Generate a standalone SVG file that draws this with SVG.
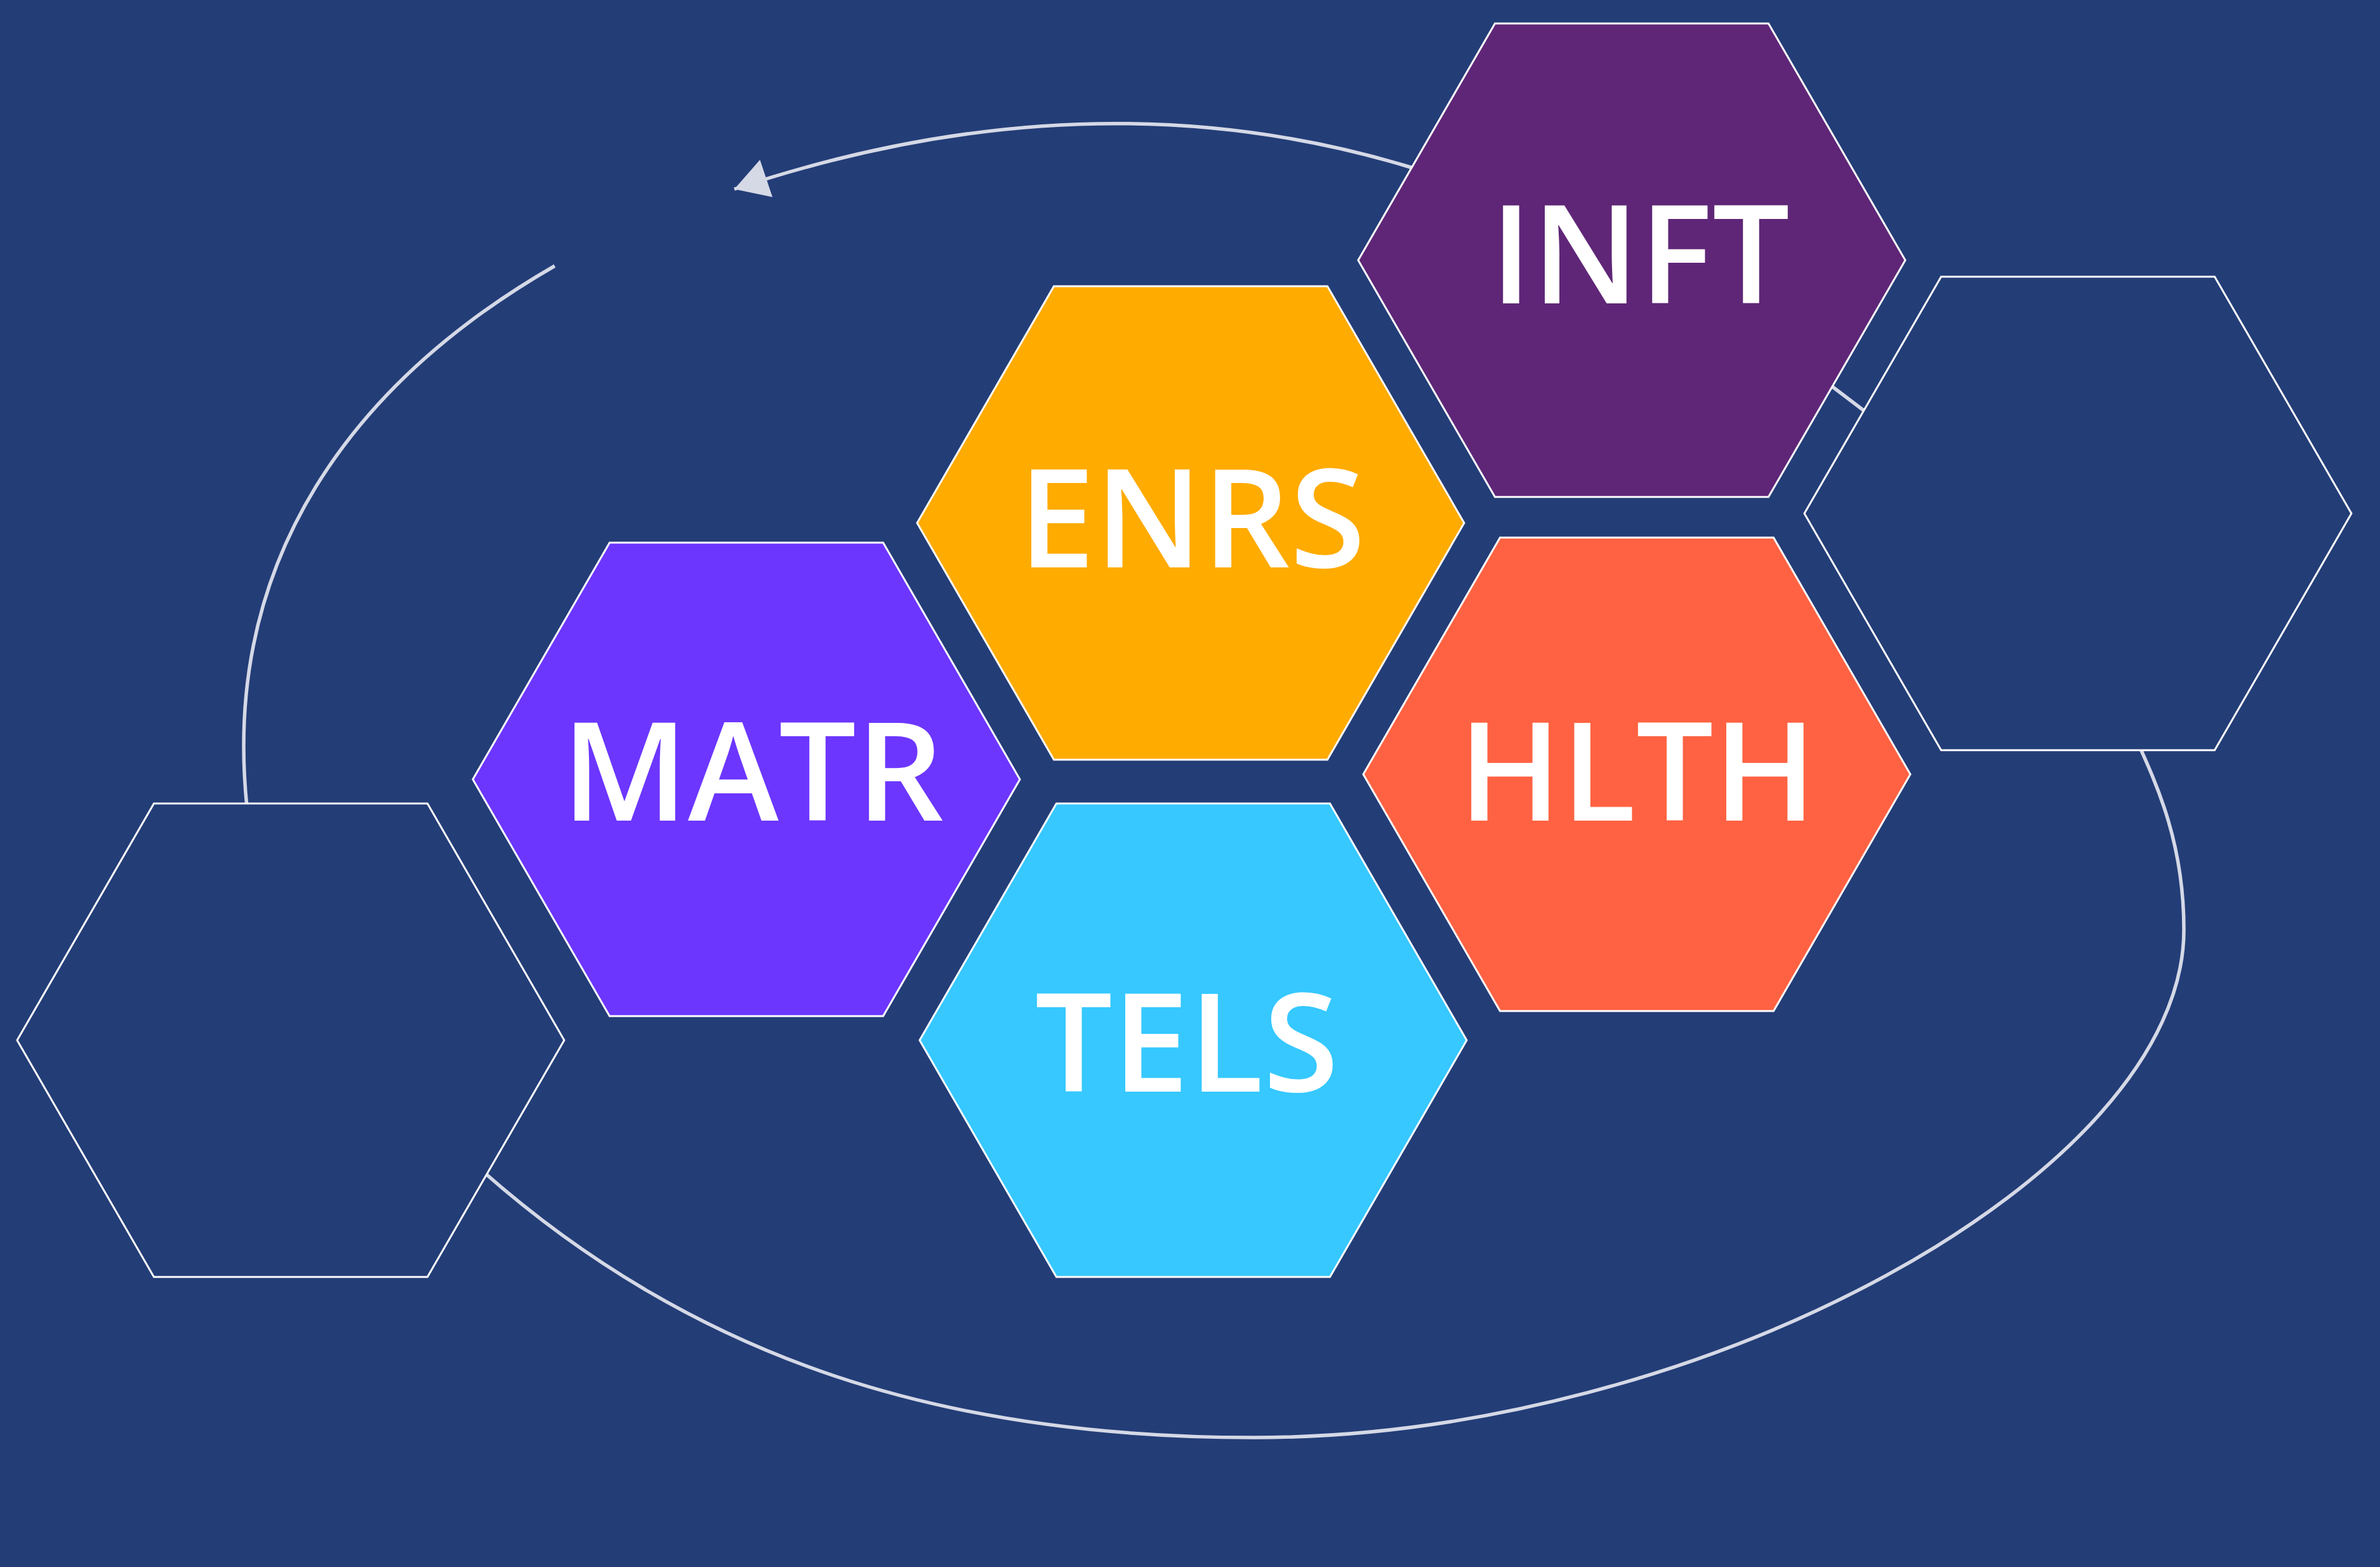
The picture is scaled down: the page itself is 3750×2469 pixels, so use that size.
<svg xmlns="http://www.w3.org/2000/svg" width="3750" height="2469" viewBox="0 0 3750 2469">
  <defs>
    <style>
      .hex { stroke: #FFFFFF; stroke-width: 3; stroke-linejoin: miter; }
      .empty { fill: #233D77; }
      .lbl { font-family: "Open Sans", "Noto Sans", "Liberation Sans", sans-serif; font-weight: 600; font-size: 216px; fill: #FFFFFF; text-anchor: middle; }
      .conn { fill: none; stroke: #D5D9E6; stroke-width: 5.5; }
    </style>
    <marker id="arrow" markerUnits="userSpaceOnUse" viewBox="-56 -34 60 68" markerWidth="60" markerHeight="68" refX="0" refY="0" orient="auto">
      <path d="M0,0 L-53,-31 L-53,31 Z" fill="#D5D9E6"/>
    </marker>
  </defs>
  <rect x="0" y="0" width="3750" height="2469" fill="#233D77"/>

  <g id="connectors">
    <path class="conn" d="M2224,264 Q1720,110 1157,298" marker-end="url(#arrow)"/>
    <path class="conn" d="M874,419 C560,600 345,880 390,1280"/>
    <path class="conn" d="M750,1836 C1100,2150 1500,2265 1976,2265 C2680,2265 3441,1850 3441,1465 C3441,1330 3400,1240 3366,1165"/>
    <path class="conn" d="M2950,657 L2875,600"/>
  </g>

  <g id="node-left-empty">
    <polygon class="hex empty" points="27,1639 242.5,1266 673.5,1266 889,1639 673.5,2012 242.5,2012"/>
  </g>
  <g id="node-right-empty">
    <polygon class="hex empty" points="2843,809 3058.5,436 3489.5,436 3705,809 3489.5,1182 3058.5,1182"/>
  </g>
  <g id="node-inft">
    <polygon class="hex" fill="#5F2677" points="2140,410 2355.5,37 2786.5,37 3002,410 2786.5,783 2355.5,783"/>
    <text class="lbl" x="2584" y="478">INFT</text>
  </g>
  <g id="node-enrs">
    <polygon class="hex" fill="#FFAB00" points="1445,824 1660.5,451 2091.5,451 2307,824 2091.5,1197 1660.5,1197"/>
    <text class="lbl" x="1878" y="894">ENRS</text>
  </g>
  <g id="node-matr">
    <polygon class="hex" fill="#6C36FF" points="745,1228 960.5,855 1391.5,855 1607,1228 1391.5,1601 960.5,1601"/>
    <text class="lbl" x="1186" y="1293">MATR</text>
  </g>
  <g id="node-hlth">
    <polygon class="hex" fill="#FF6242" points="2148,1220 2363.5,847 2794.5,847 3010,1220 2794.5,1593 2363.5,1593"/>
    <text class="lbl" x="2580" y="1293">HLTH</text>
  </g>
  <g id="node-tels">
    <polygon class="hex" fill="#36C8FF" points="1449,1639 1664.5,1266 2095.5,1266 2311,1639 2095.5,2012 1664.5,2012"/>
    <text class="lbl" x="1870" y="1720">TELS</text>
  </g>
</svg>
